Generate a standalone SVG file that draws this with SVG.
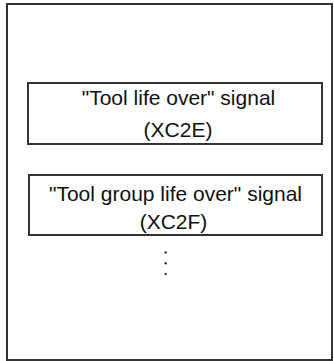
<svg xmlns="http://www.w3.org/2000/svg" width="334" height="361" viewBox="0 0 334 361">
<style>
.frame{fill:#fff;stroke:#333;stroke-width:2}
.box{fill:#fff;stroke:#333;stroke-width:2}
.t{font-family:"Liberation Sans",Arial,sans-serif;font-size:21px;fill:#111;text-anchor:middle}
.dot{fill:#333}
</style>
<rect width="334" height="361" fill="#fff"/>
<g id="frame"><rect class="frame" x="7" y="4" width="325" height="356"/></g>
<g id="node-xc2e">
<rect class="box" x="28" y="83" width="294" height="61"/>
<text class="t" x="178.5" y="105">"Tool life over" signal</text>
<text class="t" x="178" y="137">(XC2E)</text>
</g>
<g id="node-xc2f">
<rect class="box" x="29" y="175" width="293" height="60"/>
<text class="t" x="175.5" y="201">"Tool group life over" signal</text>
<text class="t" x="173.5" y="229">(XC2F)</text>
</g>
<g id="ellipsis">
<circle class="dot" cx="165.7" cy="252.5" r="1.2"/>
<circle class="dot" cx="165.7" cy="263.3" r="1.2"/>
<circle class="dot" cx="165.7" cy="274" r="1.2"/>
</g>
<g id="connectors"></g>
</svg>
